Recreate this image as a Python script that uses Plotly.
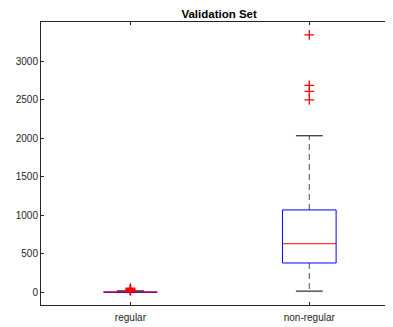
import plotly.graph_objects as go

# ---- data ----
categories = ["regular", "non-regular"]
q1 = [1, 380]
median = [4, 630]
q3 = [8, 1068]
lower_whisker = [0, 15]
upper_whisker = [18, 2030]
outliers = [
    [20, 24, 28, 33, 40, 52],
    [2495, 2605, 2685, 3338],
]

# ---- style ----
BOX_HALF = 0.15
CAP_HALF = 0.075
FONT = "Liberation Sans, Arial, sans-serif"
AXIS_COLOR = "#262626"

fig = go.Figure()

for i, cat in enumerate(categories):
    x = i + 1
    # whiskers (dashed)
    fig.add_trace(go.Scatter(
        x=[x, x, None, x, x],
        y=[q3[i], upper_whisker[i], None, q1[i], lower_whisker[i]],
        mode="lines", line=dict(color="#4d4d4d", width=1, dash="6px,4px"),
        hoverinfo="skip", showlegend=False))
    # caps
    fig.add_trace(go.Scatter(
        x=[x - CAP_HALF, x + CAP_HALF, None, x - CAP_HALF, x + CAP_HALF],
        y=[upper_whisker[i], upper_whisker[i], None, lower_whisker[i], lower_whisker[i]],
        mode="lines", line=dict(color="#000000", width=1),
        hoverinfo="skip", showlegend=False))
    # box
    fig.add_trace(go.Scatter(
        x=[x - BOX_HALF, x + BOX_HALF, x + BOX_HALF, x - BOX_HALF, x - BOX_HALF],
        y=[q1[i], q1[i], q3[i], q3[i], q1[i]],
        mode="lines", line=dict(color="#0000ff", width=1),
        hoverinfo="skip", showlegend=False))
    # median
    fig.add_trace(go.Scatter(
        x=[x - BOX_HALF, x + BOX_HALF],
        y=[median[i], median[i]],
        mode="lines", line=dict(color="#ff0000", width=1),
        hoverinfo="skip", showlegend=False))
    # outliers
    fig.add_trace(go.Scatter(
        x=[x] * len(outliers[i]), y=outliers[i],
        mode="markers",
        marker=dict(symbol="cross-thin", size=7, line=dict(color="#ff0000", width=1.3)),
        showlegend=False))

# the page body adds an 8px offset at top/left, so the figure is 8px smaller
fig.update_layout(
    width=385, height=319,
    margin=dict(l=33, r=0, t=14, b=22),
    paper_bgcolor="white", plot_bgcolor="white",
    font=dict(family=FONT, size=10, color=AXIS_COLOR),
    title=dict(text="<b>Validation Set</b>", x=0.506, xref="paper",
               y=1 - 5.5 / 319, yref="container", xanchor="center", yanchor="middle",
               font=dict(family=FONT, size=11.5, color="#000000")),
    xaxis=dict(range=[0.5, 2.468], tickvals=[1, 2], ticktext=categories,
               showgrid=False, zeroline=False, showline=True, linecolor=AXIS_COLOR,
               linewidth=1, mirror="ticks", ticks="inside", ticklen=3,
               ticklabelstandoff=3,
               tickcolor=AXIS_COLOR, tickfont=dict(size=10, color=AXIS_COLOR)),
    yaxis=dict(range=[-165, 3506], tickvals=[0, 500, 1000, 1500, 2000, 2500, 3000],
               showgrid=False, zeroline=False, showline=True, linecolor=AXIS_COLOR,
               linewidth=1, mirror=False, ticks="inside", ticklen=3,
               tickcolor=AXIS_COLOR, tickfont=dict(size=10, color=AXIS_COLOR)),
)

fig.write_html("out.html")
